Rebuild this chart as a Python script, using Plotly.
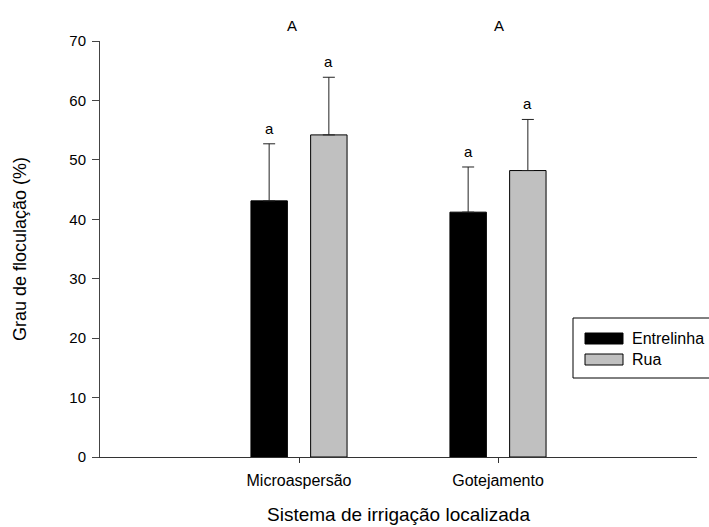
import plotly.graph_objects as go

categories = ["Microaspersão", "Gotejamento"]
series_names = ["Entrelinha", "Rua"]
entrelinha = [43.1, 41.2]
entrelinha_err = [9.6, 7.6]
rua = [54.2, 48.2]
rua_err = [9.7, 8.6]
letters_entrelinha = ["a", "a"]
letters_rua = ["a", "a"]
group_letters = ["A", "A"]
y_ticks = [0, 10, 20, 30, 40, 50, 60, 70]

FONT = "Arial, Liberation Sans, sans-serif"
xpos = [1, 2]
bw = 0.183
off = 0.15

fig = go.Figure()
for vals, errs, color, name, sign in [
    (entrelinha, entrelinha_err, "#000000", series_names[0], -1),
    (rua, rua_err, "#c0c0c0", series_names[1], 1),
]:
    fig.add_trace(go.Bar(
        x=xpos, y=vals, name=name, width=bw, offset=sign * off - bw / 2,
        marker=dict(color=color, line=dict(color="#000000", width=1)),
        error_y=dict(type="data", array=errs, arrayminus=[0] * len(errs),
                     symmetric=False, color="#222222", thickness=1, width=6),
        showlegend=False,
    ))

annotations = []
for i, x in enumerate(xpos):
    annotations.append(dict(x=x - off, y=entrelinha[i] + entrelinha_err[i], text=letters_entrelinha[i],
                            showarrow=False, yanchor="bottom", yshift=5,
                            font=dict(family=FONT, size=15, color="#000")))
    annotations.append(dict(x=x + off, y=rua[i] + rua_err[i], text=letters_rua[i],
                            showarrow=False, yanchor="bottom", yshift=5,
                            font=dict(family=FONT, size=15, color="#000")))
for x, t in zip([0.965, 2.005], group_letters):
    annotations.append(dict(x=x, y=1.0, yref="paper", text=t, showarrow=False,
                            yanchor="bottom", yshift=5,
                            font=dict(family=FONT, size=15, color="#000")))

# custom legend (drawn in pixel-derived paper coordinates)
W, H = 709, 527
ml, mr, mt, mb = 100, 12, 41, 70
pw, ph = W - ml - mr, H - mt - mb
def px(x):
    return (x - ml) / pw
def py(y):
    return 1 - (y - mt) / ph

shapes = [
    dict(type="rect", xref="paper", yref="paper", x0=px(573), x1=px(720), y0=py(318), y1=py(378),
         line=dict(color="#000", width=1), fillcolor="white", layer="above"),
    dict(type="rect", xref="paper", yref="paper", x0=px(585), x1=px(623), y0=py(333), y1=py(344),
         line=dict(color="#000", width=1), fillcolor="#000000", layer="above"),
    dict(type="rect", xref="paper", yref="paper", x0=px(585), x1=px(623), y0=py(354), y1=py(365),
         line=dict(color="#000", width=1), fillcolor="#c0c0c0", layer="above"),
]
annotations.append(dict(x=px(630), y=py(338), xref="paper", yref="paper", text=series_names[0],
                        showarrow=False, xanchor="left", yanchor="middle",
                        font=dict(family=FONT, size=16, color="#000")))
annotations.append(dict(x=px(630), y=py(359), xref="paper", yref="paper", text=series_names[1],
                        showarrow=False, xanchor="left", yanchor="middle",
                        font=dict(family=FONT, size=16, color="#000")))
# x-axis title placed as annotation so the plot area keeps its size
annotations.append(dict(x=0.5, y=py(527), xref="paper", yref="paper",
                        text="Sistema de irrigação localizada", showarrow=False,
                        xanchor="center", yanchor="bottom",
                        font=dict(family=FONT, size=19, color="#000")))

fig.update_layout(
    width=W, height=H, margin=dict(l=ml, r=mr, t=mt, b=mb),
    plot_bgcolor="white", paper_bgcolor="white", barmode="overlay",
    font=dict(family=FONT, size=15, color="#000"),
    annotations=annotations, shapes=shapes, showlegend=False,
)
fig.update_xaxes(range=[0, 3], tickvals=xpos, ticktext=categories, ticks="outside",
                 ticklen=5, tickcolor="#333", showline=True, linecolor="#333", linewidth=1,
                 showgrid=False, zeroline=False, tickfont=dict(size=16), ticklabelstandoff=4,
                 automargin=False)
fig.update_yaxes(range=[0, 70], tickvals=y_ticks, ticks="outside", ticklen=7, tickcolor="#444",
                 showline=True, linecolor="#444", linewidth=1, showgrid=False, zeroline=False,
                 tickfont=dict(size=15), ticklabelstandoff=3, automargin=False,
                 title=dict(text="Grau de floculação (%)", font=dict(size=18), standoff=38))
fig.write_html("out.html")
